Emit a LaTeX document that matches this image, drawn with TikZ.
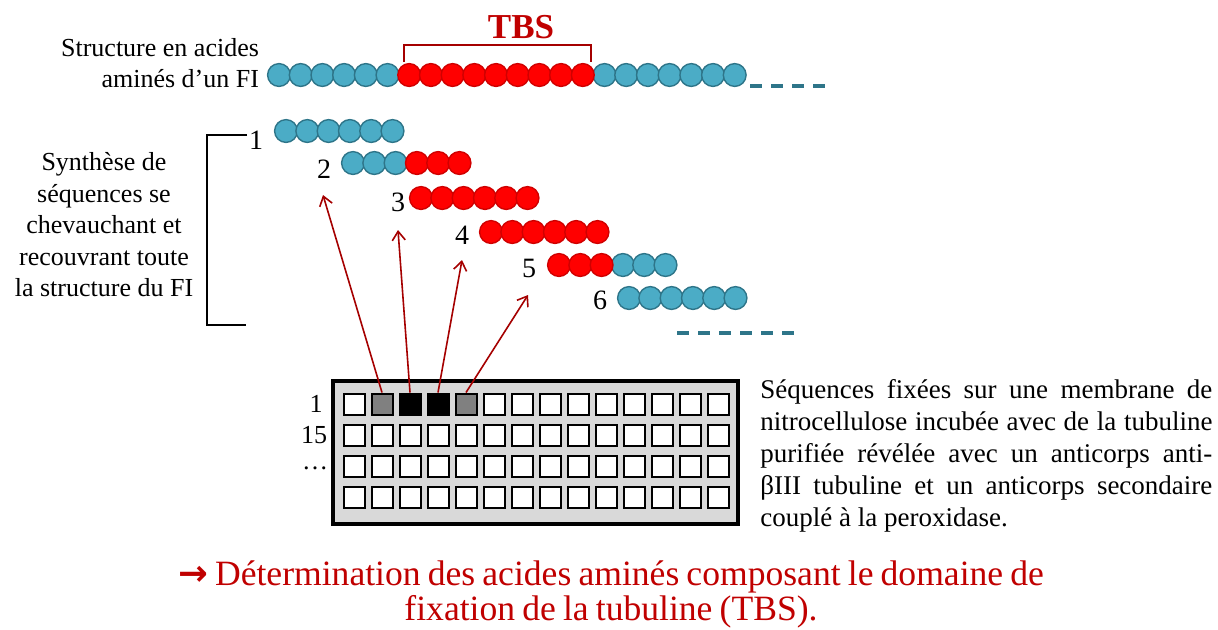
\documentclass[tikz,border=0pt]{standalone}
\usepackage{fontspec}
\setmainfont{Liberation Serif}
\newfontfamily\fleche{DejaVu Sans}
\newfontfamily\conclfont[WordSpace=0.8]{Liberation Serif}
\usetikzlibrary{arrows.meta}
\definecolor{bleuAA}{HTML}{4BACC6}
\definecolor{bleuBord}{HTML}{2E7589}
\definecolor{rougeAA}{HTML}{FF0000}
\definecolor{rougeBord}{HTML}{D00000}
\definecolor{rougeTxt}{HTML}{C00000}
\definecolor{rougeFl}{HTML}{A50000}
\definecolor{grisMb}{HTML}{D9D9D9}
\definecolor{grisSpot}{HTML}{808080}
\begin{document}
\begin{tikzpicture}[x=0.5pt, y=-0.5pt, >={Straight Barb[length=4.5pt,width=6.5pt]},
    bleu/.style={fill=bleuAA, draw=bleuBord, line width=0.7pt},
    rouge/.style={fill=rougeAA, draw=rougeBord, line width=0.7pt},
    tirets/.style={bleuBord, line width=2pt, dash pattern=on 6pt off 4.5pt},
    cellule/.style={draw, line width=1pt, minimum size=10.5pt, inner sep=0pt},
    num/.style={font=\fontsize{14}{16}\selectfont},
    texte/.style={font=\fontsize{13}{15.75}\selectfont}]
    \useasboundingbox (0,0) rectangle (1218,629);

    % 1. Séquence complète du FI
    \node[texte, align=right, anchor=east] (titre) at (266,63) {Structure en acides\\ aminés d’un FI};
    \foreach \i in {0,...,5,15,16,...,21}
        \filldraw[bleu] ({279+\i*21.7},75) circle (5.7pt);
    \foreach \i in {6,...,14}
        \filldraw[rouge] ({279+\i*21.7},75) circle (5.7pt);
    \draw[tirets] (750,86) -- (830,86);
    \node[font=\bfseries\fontsize{17.5}{20}\selectfont, text=rougeTxt] (tbs) at (521,27) {TBS};
    \draw[rougeFl, line width=1pt] (404,62) -- (404,45) -- (591,45) -- (591,62);

    % 2. Séquences chevauchantes
    \node[texte, align=center] (synthese) at (104,225) {Synthèse de\\ séquences se\\ chevauchant et\\ recouvrant toute\\ la structure du FI};
    \draw[line width=1pt] (247,135) -- (207,135) -- (207,325) -- (246,325);

    \node[num] (n1) at (256,140) {1};
    \foreach \i in {0,...,5} \filldraw[bleu] ({286+\i*21.3},131) circle (5.7pt);

    \node[num] (n2) at (324,169) {2};
    \foreach \i in {0,1,2} \filldraw[bleu] ({353+\i*21.3},163) circle (5.7pt);
    \foreach \i in {3,4,5} \filldraw[rouge] ({353+\i*21.3},163) circle (5.7pt);

    \node[num] (n3) at (398,202) {3};
    \foreach \i in {0,...,5} \filldraw[rouge] ({421+\i*21.3},198) circle (5.7pt);

    \node[num] (n4) at (462,235) {4};
    \foreach \i in {0,...,5} \filldraw[rouge] ({491+\i*21.3},232) circle (5.7pt);

    \node[num] (n5) at (529,268) {5};
    \foreach \i in {3,4,5} \filldraw[bleu] ({559+\i*21.3},265) circle (5.7pt);
    \foreach \i in {0,1,2} \filldraw[rouge] ({559+\i*21.3},265) circle (5.7pt);

    \node[num] (n6) at (600,300) {6};
    \foreach \i in {0,...,5} \filldraw[bleu] ({629+\i*21.3},298) circle (5.7pt);
    \draw[tirets] (677,333) -- (801,333);

    % 3. Membrane
    \draw[line width=1.6pt, fill=grisMb] (333,381) rectangle (738,524);
    \foreach \f [count=\c] in {white,grisSpot,black,black,grisSpot,white,white,white,white,white,white,white,white,white}
        \node[cellule, fill=\f] (c1-\c) at ({354+(\c-1)*28},404) {};
    \foreach \r in {2,3,4}
        \foreach \c in {1,...,14}
            \node[cellule, fill=white] (c\r-\c) at ({354+(\c-1)*28},{404+(\r-1)*31}) {};
    \node[texte] (l1) at (316,404) {1};
    \node[texte] (l15) at (314,435) {15};
    \node[texte] (ldots) at (315,468) {\dots};

    \node[font=\fontsize{13.5}{16}\selectfont, text width=226pt, align=justify, anchor=west, inner sep=0pt] (legende) at (760,456)
        {Séquences fixées sur une membrane de\linebreak nitrocellulose incubée avec de la tubuline\linebreak purifiée révélée avec un anticorps anti-\linebreak βIII tubuline et un anticorps secondaire\linebreak couplé à la peroxidase.};

    % 4. Flèches vers les séquences
    \coordinate (f2) at (323,195);
    \coordinate (f3) at (398,230);
    \coordinate (f4) at (462,260);
    \coordinate (f5) at (528,295);
    \draw[->, rougeFl, line width=0.8pt] (c1-2.north) -- (f2);
    \draw[->, rougeFl, line width=0.8pt] (c1-3.north) -- (f3);
    \draw[->, rougeFl, line width=0.8pt] (c1-4.north) -- (f4);
    \draw[->, rougeFl, line width=0.8pt] (c1-5.north) -- (f5);

    % 5. Conclusion
    \node[text=rougeTxt, font=\conclfont\fontsize{17.8}{17.5}\selectfont, align=center] (conclu) at (611,594)
        {{\fleche\bfseries →} Détermination des acides aminés composant le domaine de\\ fixation de la tubuline (TBS).};
\end{tikzpicture}
\end{document}
